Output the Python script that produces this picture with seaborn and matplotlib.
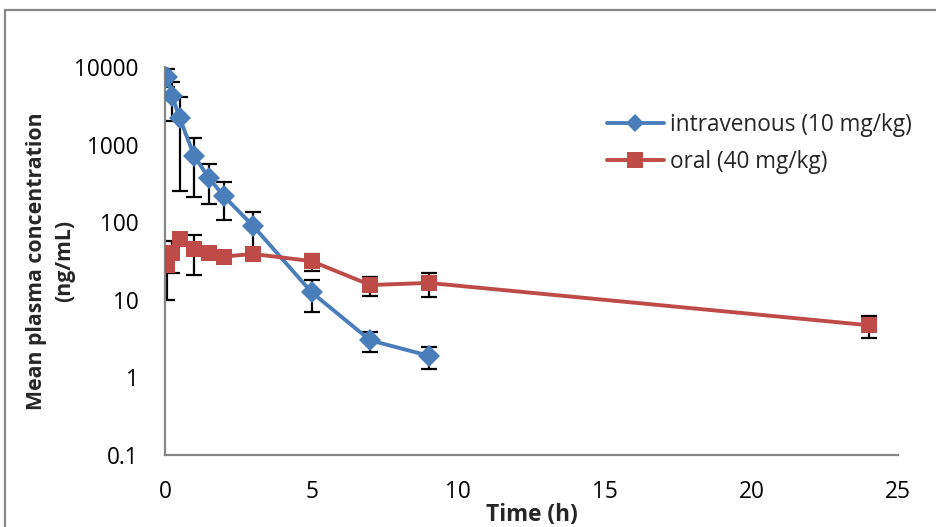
import matplotlib
matplotlib.use("Agg")
import matplotlib.pyplot as plt
import seaborn as sns
import pandas as pd
import numpy as np
from matplotlib.patches import Rectangle
from matplotlib.lines import Line2D
from matplotlib.ticker import FixedLocator, FixedFormatter, NullLocator

# ---- data ----
iv_time = [0.083, 0.25, 0.5, 1, 1.5, 2, 3, 5, 7, 9]
iv_mean = [7400, 4200, 2200, 710, 370, 218, 90, 12.5, 3.0, 1.9]
iv_sd = [1900, 2200, 1950, 500, 200, 112, 44, 5.5, 0.9, 0.6]

oral_time = [0.083, 0.25, 0.5, 1, 1.5, 2, 3, 5, 7, 9, 24]
oral_mean = [28, 40, 60, 45, 40, 36, 39, 31.5, 15.5, 16.5, 4.7]
oral_sd = [18, 18, 6, 24, 4, 3, 5, 8, 4.3, 5.5, 1.5]

series_labels = ["intravenous (10 mg/kg)", "oral (40 mg/kg)"]
y_ticks = [0.1, 1, 10, 100, 1000, 10000]
y_tick_labels = ["0.1", "1", "10", "100", "1000", "10000"]
x_ticks = [0, 5, 10, 15, 20, 25]
x_label = "Time (h)"
y_label = "Mean plasma concentration\n(ng/mL)"

# ---- styling ----
sns.set_style("white")
plt.rcParams["font.family"] = ["Open Sans", "DejaVu Sans"]
FS = 16.3
blue = "#4A7EBB"
red = "#BE4B48"
gray = "#868686"

fig = plt.figure(figsize=(9.36, 5.27), dpi=100)
ax = fig.add_axes([165 / 936, 1 - 455 / 527, (898 - 165) / 936, (455 - 67) / 527])

df = pd.concat([
    pd.DataFrame({"time": iv_time, "conc": iv_mean, "group": series_labels[0]}),
    pd.DataFrame({"time": oral_time, "conc": oral_mean, "group": series_labels[1]}),
])

# error bars (behind markers)
ax.errorbar(iv_time, iv_mean, yerr=iv_sd, fmt="none", ecolor="black",
            elinewidth=1.6, capsize=6, capthick=1.6, zorder=2)
ax.errorbar(oral_time, oral_mean, yerr=oral_sd, fmt="none", ecolor="black",
            elinewidth=1.6, capsize=6, capthick=1.6, zorder=2)

sns.lineplot(data=df, x="time", y="conc", hue="group", style="group",
             palette=[blue, red], markers=["D", "s"], dashes=False,
             markersize=11, linewidth=2.8, markeredgewidth=0,
             ax=ax, zorder=3, legend=False)

ax.set_yscale("log")
ax.set_ylim(0.1, 10000)
ax.set_xlim(0, 25)
ax.yaxis.set_major_locator(FixedLocator(y_ticks))
ax.yaxis.set_major_formatter(FixedFormatter(y_tick_labels))
ax.yaxis.set_minor_locator(NullLocator())
ax.set_xticks(x_ticks)
ax.set_xticklabels([str(t) for t in x_ticks])

for s in ["top", "right"]:
    ax.spines[s].set_visible(False)
for s in ["left", "bottom"]:
    ax.spines[s].set_color(gray)
    ax.spines[s].set_linewidth(1.6)

ax.tick_params(axis="both", which="major", direction="out", length=6,
               width=1.6, color=gray, labelsize=FS, labelcolor="black")
ax.tick_params(axis="y", pad=13)
ax.tick_params(axis="x", pad=12)

ax.set_xlabel(x_label, fontsize=FS, fontweight="bold", labelpad=0)
ax.xaxis.set_label_coords(0.5, -0.123)
ax.set_ylabel(y_label, fontsize=15.3, fontweight="bold", linespacing=1.45)
ax.yaxis.set_label_coords((75 - 165) / 733, 0.5)

# legend
handles = [
    Line2D([], [], color=blue, lw=2.8, marker="D", markersize=9, markeredgewidth=0),
    Line2D([], [], color=red, lw=2.8, marker="s", markersize=11, markeredgewidth=0),
]
ax.legend(handles, series_labels, loc="upper left",
          bbox_to_anchor=((598 - 165) / 733, 1 - (104 - 67) / 388),
          frameon=False, fontsize=FS, handlelength=2.5, handletextpad=0.3,
          labelspacing=0.55, borderaxespad=0)

# chart border
fig.patches.append(Rectangle((5 / 936, -0.2), 1.2, 1.2 - 10 / 527,
                             transform=fig.transFigure, fill=False,
                             edgecolor=gray, linewidth=1.6))

fig.savefig("out.png", dpi=100)
